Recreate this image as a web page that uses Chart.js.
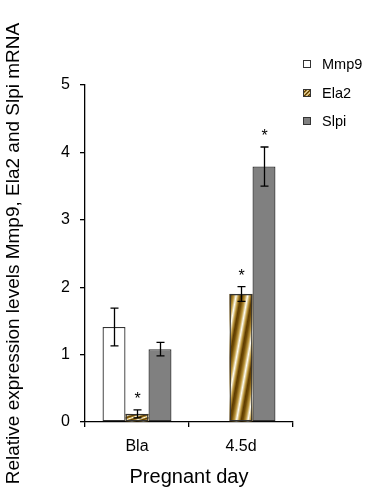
<!DOCTYPE html>
<html>
<head>
<meta charset="utf-8">
<script src="https://cdn.jsdelivr.net/npm/chart.js@4"></script>
<style>
  html, body { margin: 0; padding: 0; background: #fff; }
  #wrap { width: 369px; height: 496px; }
</style>
</head>
<body>
<div id="wrap"><canvas id="chart" width="369" height="496"></canvas></div>
<script>
// chart data
const days = ['Bla', '4.5d'];
const seriesNames = ['Mmp9', 'Ela2', 'Slpi'];
const mmp9 = [1.41, null];
const ela2 = [0.12, 1.9];
const slpi = [1.08, 3.79];
const mmp9Err = [0.28, null];
const ela2Err = [0.06, 0.11];
const slpiErr = [0.10, 0.29];
// which bars get a "*"
const mmp9Star = [false, false];
const ela2Star = [true, true];
const slpiStar = [false, true];
const yTicks = [0, 1, 2, 3, 4, 5];

const FONT = "'Liberation Sans', Arial, sans-serif";
const edge = '#333333';

// diagonal stripes that follow the bar's own diagonal (like the excel fill)
function stripeFill(ctx, left, top, w, h) {
    const len = Math.sqrt(w * w + h * h);
    const ext = 2 * w * h / len;
    const nx = h / len, ny = w / len;
    const g = ctx.createLinearGradient(left, top, left + nx * ext, top + ny * ext);
    const cycles = 4;
    for (let i = 0; i < cycles; i++) {
        const s = i / cycles, d = 1 / cycles;
        g.addColorStop(s, '#5e3c00');
        g.addColorStop(s + d * 0.15, '#6e4a05');
        g.addColorStop(s + d * 0.4, '#bf9a40');
        g.addColorStop(s + d * 0.6, '#fffef5');
        g.addColorStop(s + d * 0.8, '#bf9a40');
        g.addColorStop(s + d * 0.999, '#5e3c00');
    }
    return g;
}

const stripePlugin = {
    id: 'stripes',
    beforeDatasetDraw(chart, args) {
        if (args.index !== 1) return;
        const ctx = chart.ctx;
        ctx.save();
        args.meta.data.forEach(function(bar) {
            if (bar.skip || bar.y == null || isNaN(bar.y)) return;
            const left = bar.x - bar.width / 2;
            const h = bar.base - bar.y;
            if (h <= 0) return;
            ctx.fillStyle = stripeFill(ctx, left, bar.y, bar.width, h);
            ctx.fillRect(left, bar.y, bar.width, h);
        });
        ctx.restore();
    }
};

const errorPlugin = {
    id: 'errs',
    afterDatasetsDraw(chart) {
        const ctx = chart.ctx;
        const yScale = chart.scales.y;
        const errs = [mmp9Err, ela2Err, slpiErr];
        const stars = [mmp9Star, ela2Star, slpiStar];
        ctx.save();
        ctx.strokeStyle = '#000';
        ctx.lineWidth = 1.3;
        chart.data.datasets.forEach(function(ds, di) {
            const meta = chart.getDatasetMeta(di);
            meta.data.forEach(function(bar, i) {
                const v = ds.data[i];
                const e = errs[di][i];
                if (v == null || e == null) return;
                const x = Math.round(bar.x) + 0.5;
                const yt = yScale.getPixelForValue(v + e);
                const yb = yScale.getPixelForValue(v - e);
                ctx.beginPath();
                ctx.moveTo(x, yt); ctx.lineTo(x, yb);
                ctx.moveTo(x - 4, yt); ctx.lineTo(x + 4, yt);
                ctx.moveTo(x - 4, yb); ctx.lineTo(x + 4, yb);
                ctx.stroke();
                if (stars[di][i]) {
                    ctx.fillStyle = '#000';
                    ctx.font = '16px ' + FONT;
                    ctx.textAlign = 'center';
                    ctx.textBaseline = 'middle';
                    ctx.fillText('*', x, yt - 10);
                }
            });
        });
        ctx.restore();
    }
};

const legendPlugin = {
    id: 'sideLegend',
    afterDraw(chart) {
        const ctx = chart.ctx;
        const rows = [64, 93, 121];
        ctx.save();
        ctx.font = '14.5px ' + FONT;
        ctx.textAlign = 'left';
        ctx.textBaseline = 'middle';
        seriesNames.forEach(function(name, i) {
            const y = rows[i];
            const sx = 303, sy = y - 4, s = 8;
            if (i === 1) {
                ctx.fillStyle = stripeFill(ctx, sx, sy, s, s);
            } else {
                ctx.fillStyle = chart.data.datasets[i].backgroundColor;
            }
            ctx.fillRect(sx, sy, s, s);
            ctx.strokeStyle = edge;
            ctx.lineWidth = 1;
            ctx.strokeRect(sx + 0.5, sy + 0.5, s - 1, s - 1);
            ctx.fillStyle = '#000';
            ctx.fillText(name, 322, y + 1);
        });
        ctx.restore();
    }
};

new Chart(document.getElementById('chart'), {
    type: 'bar',
    data: {
        labels: days,
        datasets: [
            { label: seriesNames[0], data: mmp9, backgroundColor: '#ffffff' },
            { label: seriesNames[1], data: ela2, backgroundColor: 'rgba(0,0,0,0)' },
            { label: seriesNames[2], data: slpi, backgroundColor: '#808080' }
        ]
    },
    options: {
        responsive: false,
        animation: false,
        events: [],
        layout: { padding: { left: 0, top: 85, right: 76, bottom: 0 } },
        datasets: {
            bar: {
                categoryPercentage: 0.663,
                barPercentage: 1,
                borderColor: edge,
                borderWidth: 1.3,
                borderSkipped: false
            }
        },
        plugins: {
            legend: { display: false },
            tooltip: { enabled: false }
        },
        scales: {
            x: {
                afterFit: function(scale) { scale.height = 74; },
                grid: { drawOnChartArea: false, tickLength: 5, color: '#000', lineWidth: 1.3 },
                border: { color: '#000', width: 1.3 },
                ticks: { color: '#000', font: { family: FONT, size: 16 }, padding: 10 },
                title: {
                    display: true, text: 'Pregnant day', color: '#000',
                    font: { family: FONT, size: 20 }, padding: { top: 0, bottom: 7 }
                }
            },
            y: {
                min: 0, max: 5,
                afterFit: function(scale) { scale.width = 85; },
                afterBuildTicks: function(scale) { scale.ticks = yTicks.map(v => ({ value: v })); },
                grid: { drawOnChartArea: false, tickLength: 5, color: '#000', lineWidth: 1.3 },
                border: { color: '#000', width: 1.3 },
                ticks: { color: '#000', font: { family: FONT, size: 16 }, padding: 10 },
                title: {
                    display: true, text: 'Relative expression levels Mmp9, Ela2 and Slpi mRNA',
                    color: '#000', font: { family: FONT, size: 19 }, padding: { top: 2, bottom: 0 }
                }
            }
        }
    },
    plugins: [stripePlugin, errorPlugin, legendPlugin]
});
</script>
</body>
</html>
